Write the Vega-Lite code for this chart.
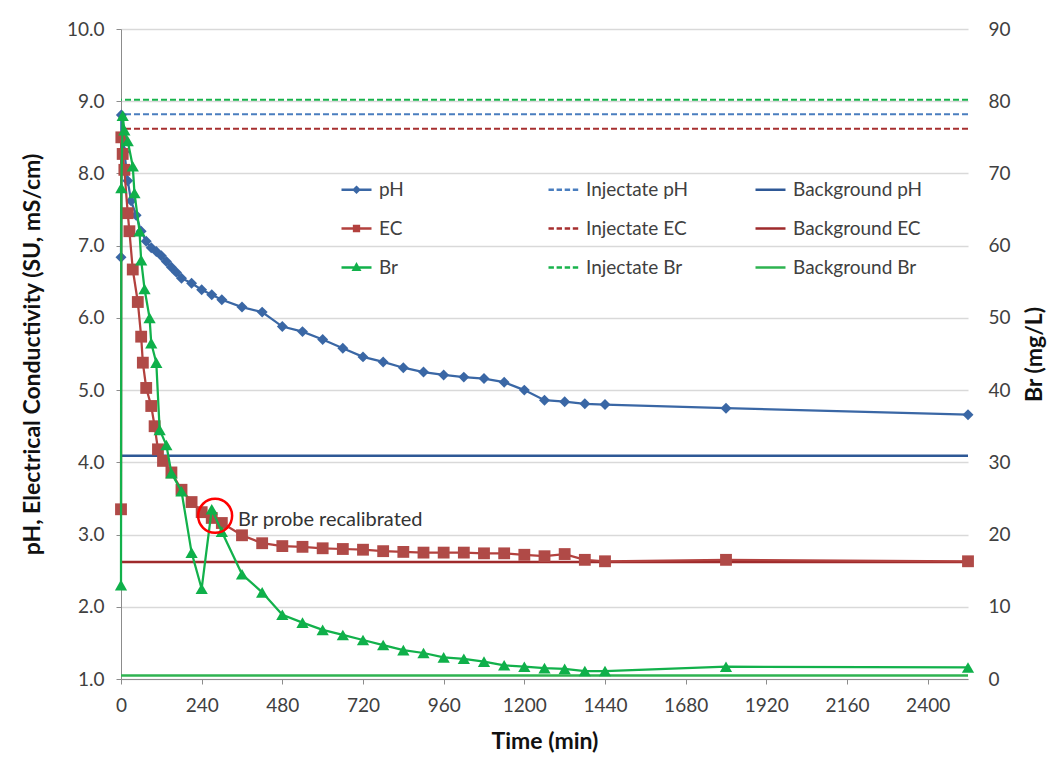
{
  "$schema": "https://vega.github.io/schema/vega-lite/v6.json",
  "width": 847,
  "height": 650,
  "autosize": {"type": "none"},
  "padding": {"left": 121, "top": 29, "right": 89, "bottom": 88},
  "background": "white",
  "config": {
    "font": "Lato",
    "view": {"stroke": null},
    "axis": {
      "labelFont": "Lato", "labelFontSize": 19, "labelColor": "#404040",
      "titleFont": "Lato", "titleFontSize": 23, "titleFontWeight": "bold", "titleColor": "#111111",
      "domainColor": "#8c8c8c", "tickColor": "#8c8c8c", "gridColor": "#d9d9d9", "gridWidth": 1.3
    }
  },
  "datasets": {
    "ph": [
      {"t":0,"v":6.84},{"t":1,"v":8.81},{"t":10,"v":8.3},{"t":20,"v":7.9},{"t":30,"v":7.62},{"t":45,"v":7.42},{"t":60,"v":7.2},{"t":75,"v":7.06},{"t":90,"v":6.97},{"t":105,"v":6.92},{"t":120,"v":6.86},{"t":135,"v":6.78},{"t":150,"v":6.7},{"t":165,"v":6.63},{"t":180,"v":6.55},{"t":210,"v":6.48},{"t":240,"v":6.39},{"t":270,"v":6.32},{"t":300,"v":6.25},{"t":360,"v":6.15},{"t":420,"v":6.08},{"t":480,"v":5.88},{"t":540,"v":5.81},{"t":600,"v":5.7},{"t":660,"v":5.58},{"t":720,"v":5.46},{"t":780,"v":5.39},{"t":840,"v":5.31},{"t":900,"v":5.25},{"t":960,"v":5.21},{"t":1020,"v":5.18},{"t":1080,"v":5.16},{"t":1140,"v":5.11},{"t":1200,"v":5.0},{"t":1260,"v":4.86},{"t":1320,"v":4.84},{"t":1380,"v":4.81},{"t":1440,"v":4.8},{"t":1800,"v":4.75},{"t":2520,"v":4.66}
    ],
    "ec": [
      {"t":0,"v":3.35},{"t":1,"v":8.5},{"t":5,"v":8.27},{"t":10,"v":8.05},{"t":20,"v":7.45},{"t":25,"v":7.2},{"t":35,"v":6.67},{"t":50,"v":6.22},{"t":60,"v":5.74},{"t":65,"v":5.38},{"t":75,"v":5.03},{"t":90,"v":4.78},{"t":100,"v":4.5},{"t":110,"v":4.18},{"t":125,"v":4.02},{"t":150,"v":3.86},{"t":180,"v":3.62},{"t":210,"v":3.45},{"t":240,"v":3.31},{"t":270,"v":3.23},{"t":300,"v":3.16},{"t":360,"v":2.99},{"t":420,"v":2.88},{"t":480,"v":2.84},{"t":540,"v":2.83},{"t":600,"v":2.81},{"t":660,"v":2.8},{"t":720,"v":2.79},{"t":780,"v":2.77},{"t":840,"v":2.76},{"t":900,"v":2.75},{"t":960,"v":2.75},{"t":1020,"v":2.75},{"t":1080,"v":2.74},{"t":1140,"v":2.74},{"t":1200,"v":2.72},{"t":1260,"v":2.7},{"t":1320,"v":2.73},{"t":1380,"v":2.65},{"t":1440,"v":2.63},{"t":1800,"v":2.65},{"t":2520,"v":2.63}
    ],
    "br": [
      {"t":0,"br":13},{"t":1,"br":68},{"t":5,"br":78},{"t":10,"br":76},{"t":20,"br":74.5},{"t":35,"br":71},{"t":40,"br":67.3},{"t":55,"br":62},{"t":60,"br":58},{"t":70,"br":54},{"t":85,"br":50},{"t":90,"br":46.5},{"t":105,"br":43.8},{"t":115,"br":34.5},{"t":135,"br":32.4},{"t":150,"br":28.5},{"t":180,"br":26},{"t":210,"br":17.5},{"t":240,"br":12.5},{"t":270,"br":23.5},{"t":300,"br":20.4},{"t":360,"br":14.5},{"t":420,"br":12},{"t":480,"br":8.9},{"t":540,"br":7.8},{"t":600,"br":6.8},{"t":660,"br":6.1},{"t":720,"br":5.4},{"t":780,"br":4.7},{"t":840,"br":4.0},{"t":900,"br":3.6},{"t":960,"br":3.0},{"t":1020,"br":2.8},{"t":1080,"br":2.4},{"t":1140,"br":1.9},{"t":1200,"br":1.7},{"t":1260,"br":1.5},{"t":1320,"br":1.4},{"t":1380,"br":1.1},{"t":1440,"br":1.1},{"t":1800,"br":1.7},{"t":2520,"br":1.6}
    ],
    "refs": [
      {"name":"Injectate pH","v":8.82},{"name":"Background pH","v":4.09},
      {"name":"Injectate EC","v":8.62},{"name":"Background EC","v":2.62}
    ],
    "refsBr": [
      {"name":"Injectate Br","br":80.2},{"name":"Background Br","br":0.5}
    ],
    "note": [{"t":280,"br":22.6,"label":"Br probe recalibrated"}]
  },
  "layer": [
    {
      "layer": [
        {
          "data": {"name": "refs"},
          "transform": [{"filter": "datum.name == 'Injectate pH'"}],
          "mark": {"type": "rule", "color": "#4a7ebf", "strokeWidth": 2, "strokeDash": [6, 3]},
          "encoding": {"y": {"field": "v", "type": "quantitative", "scale": {"domain": [1, 10], "nice": false}, "axis": {"title": "pH, Electrical Conductivity (SU, mS/cm)", "values": [1,2,3,4,5,6,7,8,9,10], "format": ".1f", "grid": true, "tickSize": 5, "labelPadding": 12, "titlePadding": 22}}}
        },
        {
          "data": {"name": "refs"},
          "transform": [{"filter": "datum.name == 'Background pH'"}],
          "mark": {"type": "rule", "color": "#2e5896", "strokeWidth": 2.5},
          "encoding": {"y": {"field": "v", "type": "quantitative", "scale": {"domain": [1, 10], "nice": false}, "axis": {"title": "pH, Electrical Conductivity (SU, mS/cm)", "values": [1,2,3,4,5,6,7,8,9,10], "format": ".1f", "grid": true, "tickSize": 5, "labelPadding": 12, "titlePadding": 22}}}
        },
        {
          "data": {"name": "refs"},
          "transform": [{"filter": "datum.name == 'Injectate EC'"}],
          "mark": {"type": "rule", "color": "#a62f2f", "strokeWidth": 2, "strokeDash": [6, 3]},
          "encoding": {"y": {"field": "v", "type": "quantitative", "scale": {"domain": [1, 10], "nice": false}, "axis": {"title": "pH, Electrical Conductivity (SU, mS/cm)", "values": [1,2,3,4,5,6,7,8,9,10], "format": ".1f", "grid": true, "tickSize": 5, "labelPadding": 12, "titlePadding": 22}}}
        },
        {
          "data": {"name": "refs"},
          "transform": [{"filter": "datum.name == 'Background EC'"}],
          "mark": {"type": "rule", "color": "#9e2a2b", "strokeWidth": 2.5},
          "encoding": {"y": {"field": "v", "type": "quantitative", "scale": {"domain": [1, 10], "nice": false}, "axis": {"title": "pH, Electrical Conductivity (SU, mS/cm)", "values": [1,2,3,4,5,6,7,8,9,10], "format": ".1f", "grid": true, "tickSize": 5, "labelPadding": 12, "titlePadding": 22}}}
        },
        {
          "data": {"name": "ph"},
          "mark": {"type": "line", "color": "#3a67a5", "strokeWidth": 2.25},
          "encoding": {
            "x": {"field": "t", "type": "quantitative", "scale": {"domain": [0, 2520], "nice": false}, "axis": {"title": "Time (min)", "values": [0,240,480,720,960,1200,1440,1680,1920,2160,2400], "format": "d", "grid": false, "tickSize": 5, "labelPadding": 12, "titlePadding": 15, "labelFlush": false}},
            "y": {"field": "v", "type": "quantitative", "scale": {"domain": [1, 10], "nice": false}, "axis": {"title": "pH, Electrical Conductivity (SU, mS/cm)", "values": [1,2,3,4,5,6,7,8,9,10], "format": ".1f", "grid": true, "tickSize": 5, "labelPadding": 12, "titlePadding": 22}}
          }
        },
        {
          "data": {"name": "ph"},
          "mark": {"type": "point", "shape": "diamond", "filled": true, "opacity": 1, "size": 120, "color": "#3a67a5"},
          "encoding": {
            "x": {"field": "t", "type": "quantitative", "scale": {"domain": [0, 2520], "nice": false}, "axis": {"title": "Time (min)", "values": [0,240,480,720,960,1200,1440,1680,1920,2160,2400], "format": "d", "grid": false, "tickSize": 5, "labelPadding": 12, "titlePadding": 15, "labelFlush": false}},
            "y": {"field": "v", "type": "quantitative", "scale": {"domain": [1, 10], "nice": false}, "axis": {"title": "pH, Electrical Conductivity (SU, mS/cm)", "values": [1,2,3,4,5,6,7,8,9,10], "format": ".1f", "grid": true, "tickSize": 5, "labelPadding": 12, "titlePadding": 22}}
          }
        },
        {
          "data": {"name": "ec"},
          "mark": {"type": "line", "color": "#b3413e", "strokeWidth": 2.25},
          "encoding": {
            "x": {"field": "t", "type": "quantitative", "scale": {"domain": [0, 2520], "nice": false}, "axis": {"title": "Time (min)", "values": [0,240,480,720,960,1200,1440,1680,1920,2160,2400], "format": "d", "grid": false, "tickSize": 5, "labelPadding": 12, "titlePadding": 15, "labelFlush": false}},
            "y": {"field": "v", "type": "quantitative", "scale": {"domain": [1, 10], "nice": false}, "axis": {"title": "pH, Electrical Conductivity (SU, mS/cm)", "values": [1,2,3,4,5,6,7,8,9,10], "format": ".1f", "grid": true, "tickSize": 5, "labelPadding": 12, "titlePadding": 22}}
          }
        },
        {
          "data": {"name": "ec"},
          "mark": {"type": "point", "shape": "square", "filled": true, "opacity": 1, "size": 140, "color": "#b04a47"},
          "encoding": {
            "x": {"field": "t", "type": "quantitative", "scale": {"domain": [0, 2520], "nice": false}, "axis": {"title": "Time (min)", "values": [0,240,480,720,960,1200,1440,1680,1920,2160,2400], "format": "d", "grid": false, "tickSize": 5, "labelPadding": 12, "titlePadding": 15, "labelFlush": false}},
            "y": {"field": "v", "type": "quantitative", "scale": {"domain": [1, 10], "nice": false}, "axis": {"title": "pH, Electrical Conductivity (SU, mS/cm)", "values": [1,2,3,4,5,6,7,8,9,10], "format": ".1f", "grid": true, "tickSize": 5, "labelPadding": 12, "titlePadding": 22}}
          }
        }
      ]
    },
    {
      "layer": [
        {
          "data": {"name": "refsBr"},
          "transform": [{"filter": "datum.name == 'Injectate Br'"}],
          "mark": {"type": "rule", "color": "#18b34c", "strokeWidth": 2, "strokeDash": [6, 3]},
          "encoding": {"y": {"field": "br", "type": "quantitative", "scale": {"domain": [0, 90], "nice": false}, "axis": {"title": "Br (mg/L)", "orient": "right", "values": [0,10,20,30,40,50,60,70,80,90], "grid": false, "domain": false, "ticks": false, "labelPadding": 20, "titlePadding": 36, "titleAngle": 270}}}
        },
        {
          "data": {"name": "refsBr"},
          "transform": [{"filter": "datum.name == 'Background Br'"}],
          "mark": {"type": "rule", "color": "#2eb350", "strokeWidth": 2.5},
          "encoding": {"y": {"field": "br", "type": "quantitative", "scale": {"domain": [0, 90], "nice": false}, "axis": {"title": "Br (mg/L)", "orient": "right", "values": [0,10,20,30,40,50,60,70,80,90], "grid": false, "domain": false, "ticks": false, "labelPadding": 20, "titlePadding": 36, "titleAngle": 270}}}
        },
        {
          "data": {"name": "br"},
          "mark": {"type": "line", "color": "#12b14b", "strokeWidth": 2.25},
          "encoding": {
            "x": {"field": "t", "type": "quantitative", "scale": {"domain": [0, 2520], "nice": false}, "axis": {"title": "Time (min)", "values": [0,240,480,720,960,1200,1440,1680,1920,2160,2400], "format": "d", "grid": false, "tickSize": 5, "labelPadding": 12, "titlePadding": 15, "labelFlush": false}},
            "y": {"field": "br", "type": "quantitative", "scale": {"domain": [0, 90], "nice": false}, "axis": {"title": "Br (mg/L)", "orient": "right", "values": [0,10,20,30,40,50,60,70,80,90], "grid": false, "domain": false, "ticks": false, "labelPadding": 20, "titlePadding": 36, "titleAngle": 270}}
          }
        },
        {
          "data": {"name": "br"},
          "mark": {"type": "point", "shape": "triangle-up", "filled": true, "opacity": 1, "size": 150, "color": "#0fb04a"},
          "encoding": {
            "x": {"field": "t", "type": "quantitative", "scale": {"domain": [0, 2520], "nice": false}, "axis": {"title": "Time (min)", "values": [0,240,480,720,960,1200,1440,1680,1920,2160,2400], "format": "d", "grid": false, "tickSize": 5, "labelPadding": 12, "titlePadding": 15, "labelFlush": false}},
            "y": {"field": "br", "type": "quantitative", "scale": {"domain": [0, 90], "nice": false}, "axis": {"title": "Br (mg/L)", "orient": "right", "values": [0,10,20,30,40,50,60,70,80,90], "grid": false, "domain": false, "ticks": false, "labelPadding": 20, "titlePadding": 36, "titleAngle": 270}}
          }
        },
        {
          "data": {"name": "note"},
          "mark": {"type": "point", "shape": "circle", "filled": false, "opacity": 1, "size": 1156, "color": "#ff0000", "strokeWidth": 2.5},
          "encoding": {
            "x": {"field": "t", "type": "quantitative", "scale": {"domain": [0, 2520], "nice": false}, "axis": {"title": "Time (min)", "values": [0,240,480,720,960,1200,1440,1680,1920,2160,2400], "format": "d", "grid": false, "tickSize": 5, "labelPadding": 12, "titlePadding": 15, "labelFlush": false}},
            "y": {"field": "br", "type": "quantitative", "scale": {"domain": [0, 90], "nice": false}, "axis": {"title": "Br (mg/L)", "orient": "right", "values": [0,10,20,30,40,50,60,70,80,90], "grid": false, "domain": false, "ticks": false, "labelPadding": 20, "titlePadding": 36, "titleAngle": 270}}
          }
        },
        {
          "data": {"name": "note"},
          "mark": {"type": "text", "align": "left", "baseline": "middle", "dx": 23, "dy": 4, "fontSize": 20, "font": "Lato", "color": "#333333"},
          "encoding": {
            "x": {"field": "t", "type": "quantitative", "scale": {"domain": [0, 2520], "nice": false}, "axis": {"title": "Time (min)", "values": [0,240,480,720,960,1200,1440,1680,1920,2160,2400], "format": "d", "grid": false, "tickSize": 5, "labelPadding": 12, "titlePadding": 15, "labelFlush": false}},
            "y": {"field": "br", "type": "quantitative", "scale": {"domain": [0, 90], "nice": false}, "axis": {"title": "Br (mg/L)", "orient": "right", "values": [0,10,20,30,40,50,60,70,80,90], "grid": false, "domain": false, "ticks": false, "labelPadding": 20, "titlePadding": 36, "titleAngle": 270}},
            "text": {"field": "label"}
          }
        }
      ]
    },
    {
      "data": {"name": "ph"},
      "transform": [{"filter": "false"}],
      "mark": {"type": "point", "filled": false, "opacity": 1, "strokeWidth": 2.5},
      "encoding": {
        "color": {
          "field": "series", "type": "nominal",
          "scale": {
            "domain": ["pH", "Injectate pH", "Background pH", "EC", "Injectate EC", "Background EC", "Br", "Injectate Br", "Background Br"],
            "range": ["#3a67a5", "#4a7ebf", "#2e5896", "#b3413e", "#a62f2f", "#9e2a2b", "#12b14b", "#18b34c", "#2eb350"]
          },
          "legend": {
            "title": null, "orient": "none", "legendX": 219, "legendY": 144, "columns": 3, "direction": "horizontal", "gridAlign": "all",
            "columnPadding": 34, "rowPadding": 12, "padding": 0, "symbolSize": 900, "symbolStrokeWidth": 2.5,
            "labelFont": "Lato", "labelFontSize": 19, "labelColor": "#404040", "labelOffset": 6, "labelLimit": 300,
            "encode": {"symbols": {"update": {"stroke": {"signal": "scale('color', datum.value)"}, "fill": {"signal": "scale('color', datum.value)"}, "opacity": {"value": 1}}}}
          }
        },
        "shape": {
          "field": "series", "type": "nominal",
          "scale": {
            "domain": ["pH", "Injectate pH", "Background pH", "EC", "Injectate EC", "Background EC", "Br", "Injectate Br", "Background Br"],
            "range": [
              "M-1,0H1M0,-0.17L0.17,0L0,0.17L-0.17,0ZM0,-0.09L0.09,0L0,0.09L-0.09,0Z",
              "M-1,0H-0.64M-0.46,0H-0.1M0.08,0H0.44M0.62,0H0.98",
              "M-1,0H1",
              "M-1,0H1M-0.16,-0.16H0.16V0.16H-0.16ZM-0.08,-0.08H0.08V0.08H-0.08Z",
              "M-1,0H-0.64M-0.46,0H-0.1M0.08,0H0.44M0.62,0H0.98",
              "M-1,0H1",
              "M-1,0H1M0,-0.19L0.19,0.15H-0.19ZM0,-0.08L0.09,0.08H-0.09Z",
              "M-1,0H-0.64M-0.46,0H-0.1M0.08,0H0.44M0.62,0H0.98",
              "M-1,0H1"
            ]
          },
          "legend": null
        }
      }
    }
  ],
  "resolve": {"scale": {"y": "independent"}}
}
